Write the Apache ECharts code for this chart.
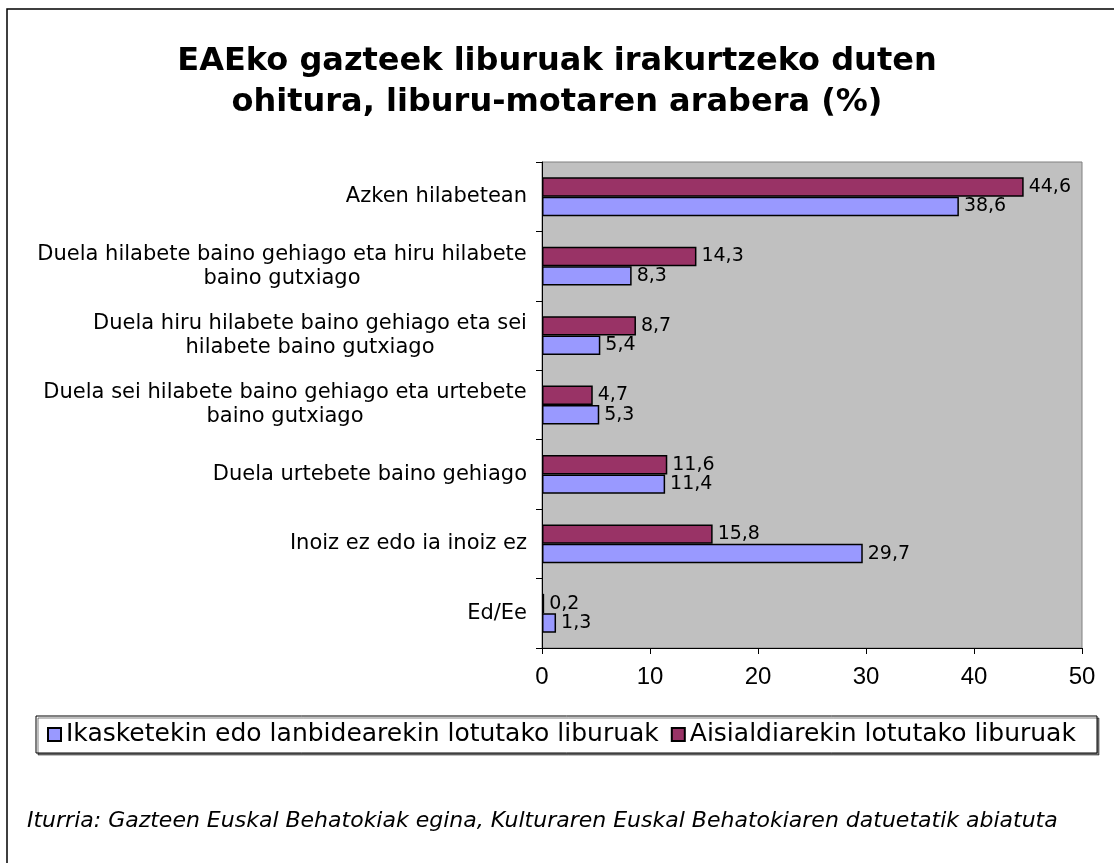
<!DOCTYPE html>
<html>
<head>
<meta charset="utf-8">
<title>EAEko gazteek liburuak irakurtzeko duten ohitura</title>
<script src="https://cdn.jsdelivr.net/npm/echarts@6/dist/echarts.min.js"></script>
<style>
  html, body { margin: 0; padding: 0; background: #fff; }
  #chart { width: 1114px; height: 863px; }
</style>
</head>
<body>
<div id="chart"></div>
<script>
// kategoriak (goitik behera)
const categories = [
  'Azken hilabetean',
  'Duela hilabete baino gehiago eta hiru hilabete\nbaino gutxiago',
  'Duela hiru hilabete baino gehiago eta sei\nhilabete baino gutxiago',
  'Duela sei hilabete baino gehiago eta urtebete\nbaino gutxiago',
  'Duela urtebete baino gehiago',
  'Inoiz ez edo ia inoiz ez',
  'Ed/Ee'
];
const seriesNames = [
  'Ikasketekin edo lanbidearekin lotutako liburuak',
  'Aisialdiarekin lotutako liburuak'
];
const ikasketak = [38.6, 8.3, 5.4, 5.3, 11.4, 29.7, 1.3];
const aisialdia = [44.6, 14.3, 8.7, 4.7, 11.6, 15.8, 0.2];
const xTicks = [0, 10, 20, 30, 40, 50];

const titleText = 'EAEko gazteek liburuak irakurtzeko duten\nohitura, liburu-motaren arabera (%)';
const sourceText = 'Iturria: Gazteen Euskal Behatokiak egina, Kulturaren Euskal Behatokiaren datuetatik abiatuta';

const FONT = '"DejaVu Sans", Verdana, sans-serif';
const catFontSize = 21;

// bi lerroko etiketak zentratzeko, lerro luzeenaren zabalera neurtu
const ctx = document.createElement('canvas').getContext('2d');
ctx.font = catFontSize + 'px "DejaVu Sans"';
const rich = {};
categories.forEach((c, i) => {
  const w = Math.max(...c.split('\n').map(l => ctx.measureText(l).width));
  rich['w' + i] = { width: Math.ceil(w), align: 'center', fontSize: catFontSize, fontFamily: FONT, color: '#000', lineHeight: 24 };
});

const valueLabel = {
  show: true,
  position: 'right',
  distance: 5,
  color: '#000',
  fontSize: 19,
  fontFamily: FONT,
  formatter: p => String(p.value).replace('.', ',')
};

const chart = echarts.init(document.getElementById('chart'));
chart.setOption({
  animation: false,
  backgroundColor: '#fff',
  title: [
    {
      text: titleText,
      left: 'center',
      top: 36,
      textStyle: { fontFamily: FONT, fontSize: 32, fontWeight: 'bold', color: '#000', lineHeight: 41 }
    },
    {
      text: sourceText,
      left: 22,
      top: 805,
      textStyle: { fontFamily: FONT, fontSize: 22, fontStyle: 'italic', fontWeight: 'normal', color: '#000' }
    }
  ],
  graphic: [
    { type: 'rect', silent: true, shape: { x: 7, y: 9, width: 1300, height: 1000 },
      style: { fill: 'none', stroke: '#000', lineWidth: 1.5 } },
    { type: 'rect', silent: true, shape: { x: 36, y: 716, width: 1061, height: 37 },
      style: { fill: '#fff', stroke: '#000', lineWidth: 1, shadowColor: 'rgba(0,0,0,0.5)', shadowOffsetX: 2, shadowOffsetY: 2, shadowBlur: 0 }, z: 1 }
  ],
  legend: {
    data: seriesNames,
    left: 47,
    top: 722,
    padding: 0,
    itemWidth: 13,
    itemHeight: 13,
    itemGap: 12,
    icon: 'rect',
    z: 5,
    textStyle: { fontFamily: FONT, fontSize: 25, color: '#000', padding: [0, 0, 0, 0] }
  },
  grid: {
    left: 542,
    right: 32,
    top: 162,
    height: 486,
    show: true,
    backgroundColor: '#c0c0c0',
    borderColor: '#808080',
    borderWidth: 1
  },
  xAxis: {
    type: 'value',
    min: xTicks[0],
    max: xTicks[xTicks.length - 1],
    interval: 10,
    axisLine: { show: true, lineStyle: { color: '#000', width: 1 } },
    axisTick: { show: true, length: 6, lineStyle: { color: '#000' } },
    splitLine: { show: false },
    axisLabel: { margin: 17, fontFamily: '"Liberation Sans", Arial, sans-serif', fontSize: 24, color: '#000' }
  },
  yAxis: {
    type: 'category',
    data: categories,
    inverse: true,
    axisLine: { show: true, lineStyle: { color: '#000', width: 1 } },
    axisTick: { show: true, length: 6, lineStyle: { color: '#000' } },
    axisLabel: {
      margin: 15,
      fontFamily: FONT,
      fontSize: catFontSize,
      color: '#000',
      lineHeight: 24,
      interval: 0,
      rich: rich,
      formatter: (v, i) => v.indexOf('\n') < 0 ? v : v.split('\n').map(l => '{w' + i + '|' + l + '}').join('\n')
    }
  },
  series: [
    {
      name: seriesNames[1],
      type: 'bar',
      data: aisialdia,
      barGap: '0%',
      barCategoryGap: '44%',
      itemStyle: { color: '#993366', borderColor: '#000', borderWidth: 1.5 },
      label: valueLabel
    },
    {
      name: seriesNames[0],
      type: 'bar',
      data: ikasketak,
      barGap: '0%',
      barCategoryGap: '44%',
      itemStyle: { color: '#9999ff', borderColor: '#000', borderWidth: 1.5 },
      label: valueLabel
    }
  ]
});
</script>
</body>
</html>
